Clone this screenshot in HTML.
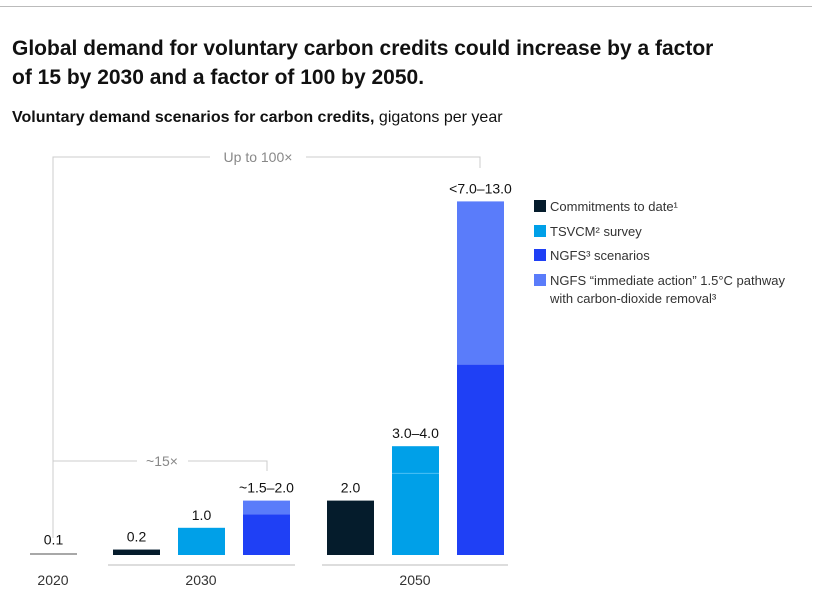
<!DOCTYPE html>
<html><head><meta charset="utf-8"><style>
body{margin:0;width:832px;height:601px;background:#fff;font-family:"Liberation Sans",sans-serif;overflow:hidden;position:relative}
.t{position:absolute;color:#111}
</style></head><body>
<div style="position:absolute;left:0;top:6px;width:812px;height:1px;background:#bbb"></div>
<div class="t" style="left:12px;top:34px;font-size:21px;font-weight:bold;line-height:29px;width:715px">Global demand for voluntary carbon credits could increase by a factor of 15 by 2030 and a factor of 100 by 2050.</div>
<div class="t" style="left:12px;top:109px;font-size:16px"><b>Voluntary demand scenarios for carbon credits,</b> gigatons per year</div>
<svg id="c" width="832" height="601" style="position:absolute;left:0;top:0" font-family="Liberation Sans, sans-serif"></svg>
<script>
const categories=["2020","2030","2030","2030","2050","2050","2050"];
const baseValues=[0.1,0.2,1.0,1.5,2.0,4.0,7.0];
const topValues=[0,0,0,2.0,0,0,13.0];
const valueLabels=["0.1","0.2","1.0","~1.5–2.0","2.0","3.0–4.0","<7.0–13.0"];
const series=["2020","commit","tsvcm","ngfs","commit","tsvcm","ngfs"];
const legendLabels=["Commitments to date¹","TSVCM² survey","NGFS³ scenarios","NGFS “immediate action” 1.5°C pathway","with carbon-dioxide removal³"];
const colors={"2020":"#a8a8a8",commit:"#051c2c",tsvcm:"#00a0e8",ngfs:"#1f40f5",ngfsTop:"#5a7cfa"};
const svg=document.getElementById('c');const NS="http://www.w3.org/2000/svg";
const baseY=555,ppu=27.2;
const y=v=>baseY-v*ppu;
const xs=[30,113,178,243,327,392,457],bw=47;
function el(t,a,p){const e=document.createElementNS(NS,t);for(const k in a)e.setAttribute(k,a[k]);(p||svg).appendChild(e);return e;}
function txt(x,yy,s,o){const e=el('text',Object.assign({x:x,y:yy,'font-size':14,fill:'#111','text-anchor':'middle'},o||{}));e.textContent=s;return e;}
const g=el('g',{stroke:'#ccc','stroke-width':1,fill:'none'});


el('path',{d:'M53,538 V157 H210 M306,157 H480 V168'},g);
el('path',{d:'M53,461 H137 M188,461 H267 V471'},g);
let b1=txt(258,162,"Up to 100×",{fill:'#888'});


let b2=txt(162,466,"~15×",{fill:'#888'});


for(let i=0;i<categories.length;i++){
  const x=xs[i];
  if(series[i]==="2020"){
    const r=el('rect',{x:x,y:baseY-2,width:bw,height:2,fill:colors["2020"]});
    
    
  }else{
    const r=el('rect',{x:x,y:y(baseValues[i]),width:bw,height:baseY-y(baseValues[i]),fill:colors[series[i]]});
    
    
    if(topValues[i]>0){
      const r2=el('rect',{x:x,y:y(topValues[i]),width:bw,height:y(baseValues[i])-y(topValues[i]),fill:colors.ngfsTop});
      
      
    }
  }
  const top=Math.max(baseValues[i],topValues[i]);
  const l=txt(x+bw/2,y(top)-8,valueLabels[i]);
  
  
}
el('line',{x1:392,x2:439,y1:y(3.0),y2:y(3.0),stroke:'#4cc0f5','stroke-width':1});
el('line',{x1:108,x2:295,y1:565,y2:565,stroke:'#ddd','stroke-width':2});
el('line',{x1:322,x2:508,y1:565,y2:565,stroke:'#ddd','stroke-width':2});
[["2020",53],["2030",201],["2050",415]].forEach(([s,x])=>{const e=txt(x,585,s,{fill:'#333'});});
const lc=[colors.commit,colors.tsvcm,colors.ngfs,colors.ngfsTop];
const ly=[206,231,255,280];
for(let i=0;i<4;i++){
  const r=el('rect',{x:534,y:ly[i]-6,width:12,height:12,fill:lc[i]});
  
  
  const t=txt(550,ly[i]+5,legendLabels[i],{'text-anchor':'start','font-size':13,fill:'#333'});
  
  
}
const t5=txt(550,303,legendLabels[4],{'text-anchor':'start','font-size':13,fill:'#333'});


</script>
</body></html>
